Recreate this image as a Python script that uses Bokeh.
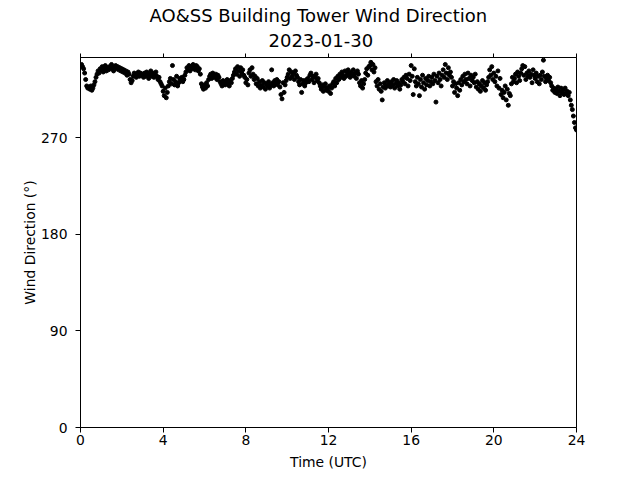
import numpy as np
from bokeh.plotting import figure
from bokeh.models import Range1d, LinearAxis, FixedTicker, Title
from bokeh.embed import file_html
from bokeh.resources import INLINE

title_main = "AO&SS Building Tower Wind Direction"
title_date = "2023-01-30"
x_label = "Time (UTC)"
y_label = "Wind Direction (°)"
x_ticks = [0, 4, 8, 12, 16, 20, 24]
y_ticks = [0, 90, 180, 270]

# wind direction (deg), one reading every 3 minutes
wd_00_06 = [
    337, 338, 336, 334, 330, 324, 318, 316, 317, 315, 318, 314, 316, 319, 322, 326, 329, 332, 330, 334,
    333, 336, 331, 334, 337, 332, 335, 333, 336, 334, 338, 335, 332, 336, 337, 334, 336, 333, 335, 332,
    334, 331, 333, 330, 332, 328, 331, 329, 324, 321, 323, 327, 330, 328, 326, 329, 331, 327, 330, 328,
    329, 326, 330, 327, 331, 328, 325, 329, 332, 327, 330, 326, 328, 331, 327, 324, 326, 322, 320, 318,
    313, 309, 316, 307, 312, 318, 322, 325, 320, 337, 324, 319, 322, 327, 318, 321, 325, 323, 326, 322,
    324, 328, 331, 335, 333, 337, 332, 336, 334, 338, 335, 333, 337, 336, 332, 334, 329, 320, 317, 315,
]
wd_06_12 = [
    319, 316, 321, 318, 324, 327, 329, 325, 330, 327, 326, 329, 324, 328, 326, 322, 320, 318, 323, 321,
    319, 322, 324, 320, 318, 323, 321, 325, 328, 331, 334, 329, 336, 332, 327, 335, 330, 333, 328, 326,
    321, 324, 319, 330, 333, 327, 335, 329, 324, 327, 320, 325, 318, 322, 316, 319, 323, 317, 321, 315,
    320, 318, 322, 316, 319, 333, 321, 318, 323, 320, 324, 319, 322, 317, 310, 306, 321, 312, 319, 323,
    326, 329, 333, 325, 331, 327, 330, 324, 332, 328, 326, 322, 319, 324, 312, 320, 323, 318, 321, 324,
    325, 322, 328, 330, 324, 327, 321, 326, 329, 323, 325, 321, 318, 315, 319, 313, 317, 320, 314, 316,
]
wd_12_18 = [
    313, 318, 311, 316, 320, 322, 318, 325, 321, 327, 324, 329, 326, 331, 328, 325, 332, 327, 330, 333,
    329, 326, 331, 328, 333, 327, 330, 325, 332, 329, 321, 318, 323, 316, 320, 324, 330, 334, 328, 336,
    337, 340, 333, 338, 331, 335, 322, 318, 324, 315, 320, 313, 305, 317, 321, 316, 319, 323, 318, 321,
    317, 322, 319, 324, 316, 320, 323, 318, 321, 315, 319, 324, 322, 326, 320, 328, 325, 318, 329, 323,
    337, 327, 310, 334, 322, 318, 326, 320, 309, 324, 317, 328, 321, 315, 325, 319, 323, 327, 318, 322,
    326, 320, 329, 323, 303, 327, 321, 330, 324, 318, 328, 333, 326, 338, 330, 324, 335, 328, 331, 326,
]
wd_18_24 = [
    318, 322, 312, 320, 316, 309, 321, 314, 324, 319, 327, 322, 329, 324, 320, 330, 325, 318, 328, 323,
    326, 321, 329, 317, 322, 315, 320, 313, 318, 323, 316, 321, 314, 319, 322, 326, 333, 328, 336, 324,
    330, 322, 327, 318, 332, 316, 325, 310, 314, 307, 312, 318, 305, 315, 300, 311, 309, 320, 326, 322,
    325, 329, 321, 331, 327, 323, 330, 334, 337, 328, 336, 324, 330, 327, 332, 326, 329, 321, 333, 328,
    325, 330, 322, 327, 320, 328, 324, 331, 342, 327, 322, 325, 328, 323, 326, 321, 318, 314, 316, 312,
    315, 311, 317, 313, 309, 316, 312, 314, 310, 316, 311, 313, 309, 312, 305, 300, 296, 290, 284, 279,
    277,
]

wdir = wd_00_06 + wd_06_12 + wd_12_18 + wd_18_24
step_min = 3
hours = np.arange(len(wdir)) * step_min / 60.0

FONT = "DejaVu Sans"

p = figure(width=632, height=472, output_backend="svg", toolbar_location=None,
           x_range=Range1d(0, 24), y_range=Range1d(0, 344.5),
           min_border_left=80, min_border_right=56, min_border_top=57, min_border_bottom=45)
p.title.visible = False
p.xgrid.visible = False
p.ygrid.visible = False
p.outline_line_color = "black"
p.outline_line_width = 1
p.background_fill_color = "white"
p.border_fill_color = "white"

p.scatter(hours, wdir, size=4, color="black", line_color="black")

for ax in (p.xaxis[0], p.yaxis[0]):
    ax.axis_line_color = "black"
    ax.major_tick_line_color = "black"
    ax.minor_tick_line_color = None
    ax.major_tick_out = 5
    ax.major_tick_in = 0
    ax.major_label_text_font = FONT
    ax.major_label_text_font_size = "13.9px"
    ax.major_label_text_color = "black"
    ax.axis_label_text_font = FONT
    ax.axis_label_text_font_size = "13.9px"
    ax.axis_label_text_font_style = "normal"
    ax.axis_label_text_color = "black"

p.xaxis[0].major_label_standoff = 2
p.xaxis[0].axis_label_standoff = 6
p.yaxis[0].major_label_standoff = 8
p.yaxis[0].axis_label_standoff = 0

p.xaxis[0].ticker = FixedTicker(ticks=x_ticks)
p.yaxis[0].ticker = FixedTicker(ticks=y_ticks)
p.xaxis[0].axis_label = x_label
p.yaxis[0].axis_label = y_label

top = LinearAxis(ticker=FixedTicker(ticks=x_ticks))
top.major_label_text_font_size = "0px"
top.major_label_standoff = 0
top.major_tick_out = 4
top.major_tick_in = 0
top.minor_tick_line_color = None
top.axis_line_color = "black"
p.add_layout(top, "above")

p.add_layout(Title(text=title_date, align="left", text_font=FONT, text_font_size="18px",
                   text_font_style="normal", text_color="black", standoff=14, offset=188), "above")
p.add_layout(Title(text=title_main, align="left", text_font=FONT, text_font_size="18px",
                   text_font_style="normal", text_color="black", standoff=-3, offset=69), "above")

open("out.html", "w").write(file_html(p, INLINE))
